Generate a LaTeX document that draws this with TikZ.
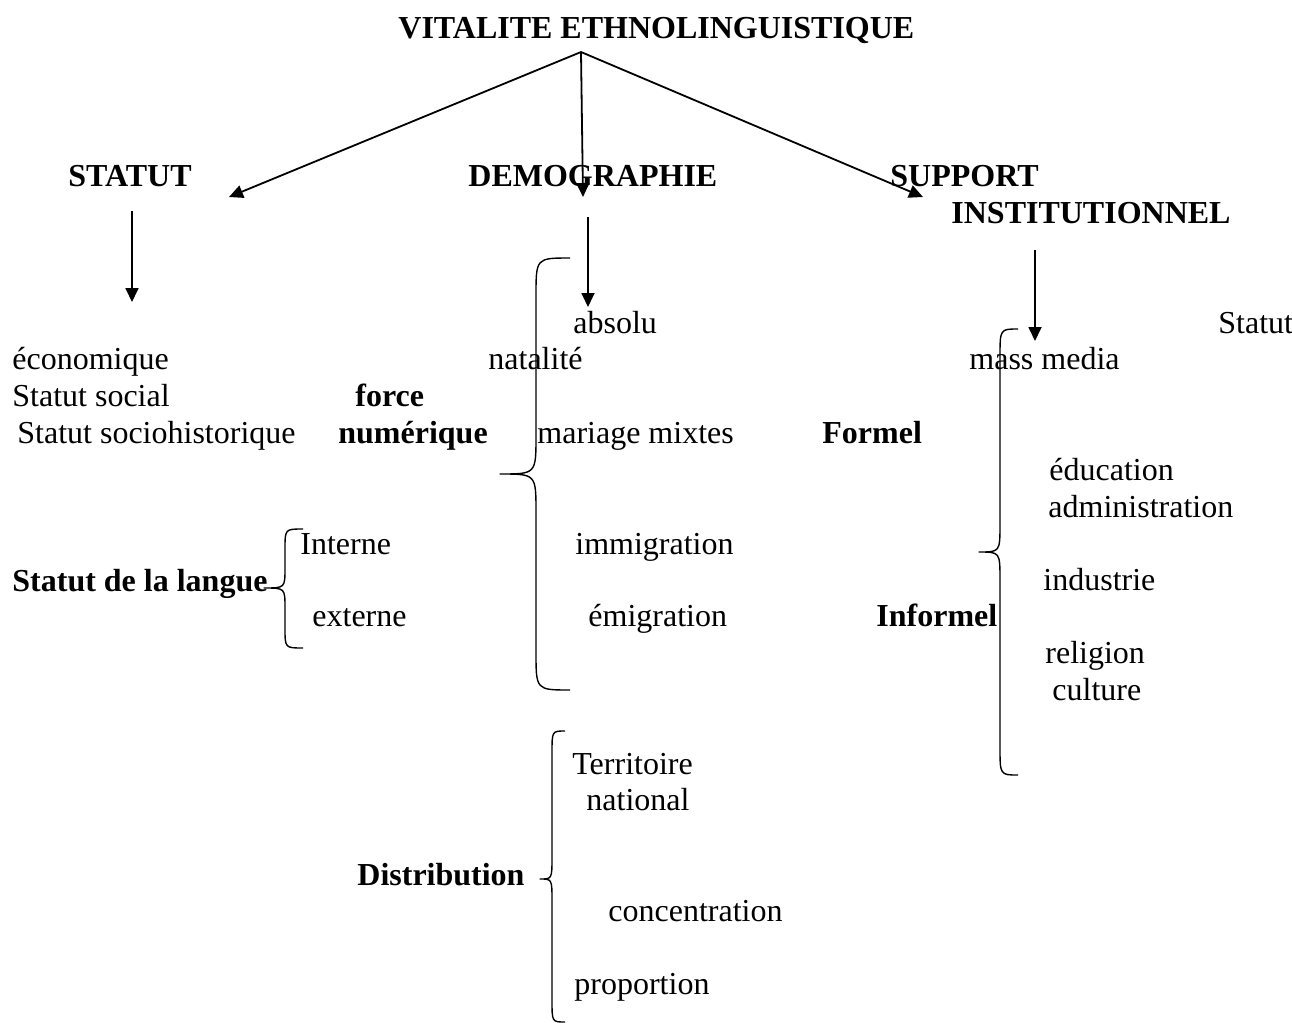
\documentclass[tikz,border=0pt]{standalone}
\usepackage{fontspec}
\setmainfont{Liberation Serif}
\usetikzlibrary{arrows.meta}

\begin{document}
\begin{tikzpicture}[x=0.5pt, y=-0.5pt, line join=round,
  mot/.style={anchor=base west, inner sep=0pt, font=\fontsize{16}{19}\selectfont},
  gras/.style={mot, font=\fontsize{16}{19}\selectfont\bfseries},
  fleche/.style={line width=0.9pt, -{Triangle[length=7pt, width=6.5pt]}},
  accolade/.style={line width=0.7pt}]
  \useasboundingbox (0,0) rectangle (1292,1023);
  % titles (bold)
  \foreach \n/\x/\y/\t in {vitalite/398/38/VITALITE ETHNOLINGUISTIQUE, statut/68/186/STATUT,
    demo/468/186/DEMOGRAPHIE, support/890/186/SUPPORT, instit/951/223/INSTITUTIONNEL,
    force/355/406/force, numerique/338/443/numérique, formel/822/443/Formel,
    informel/876/626/Informel, langue/12/591/Statut de la langue, distrib/357/885/Distribution}
    \node[gras] (\n) at (\x,\y) {\t};
  % plain words
  \foreach \n/\x/\y/\t in {absolu/573/333/absolu, statutB/1218/333/Statut, eco/12/369/économique,
    natal/488/369/natalité, media/969/369/mass media, social/12/406/Statut social,
    sociohist/17/443/Statut sociohistorique, mariage/537/443/mariage mixtes,
    educ/1049/480/éducation, admin/1048/517/administration, interne/300/554/Interne,
    immig/575/554/immigration, industrie/1043/590/industrie, externe/312/626/externe,
    emig/588/626/émigration, religion/1045/663/religion, culture/1052/700/culture,
    territoire/572/774/Territoire, national/586/810/national, concentr/608/921/concentration,
    proportion/574/994/proportion}
    \node[mot] (\n) at (\x,\y) {\t};
  % arrows
  \coordinate (sommet) at (581,52);
  \coordinate (versStatut) at (229,197);
  \coordinate (versDemo) at (583,197);
  \coordinate (versSupport) at (923,197);
  \draw[fleche] (sommet) -- (versStatut);
  \draw[fleche] (sommet) -- (versDemo);
  \draw[fleche] (sommet) -- (versSupport);
  \coordinate (statutA) at (132,211);  \coordinate (statutB) at (132,302);
  \coordinate (demoA) at (588,217);    \coordinate (demoB) at (588,307);
  \coordinate (supportA) at (1035,250); \coordinate (supportB) at (1035,341);
  \draw[fleche] (statutA) -- (statutB);
  \draw[fleche] (demoA) -- (demoB);
  \draw[fleche] (supportA) -- (supportB);
  % braces: end x / top y / line x / tip x / tip y / bottom y / radius
  \foreach \xe/\yt/\xv/\xt/\ym/\yb/\r in {570/258/536/500/474/690/38, 303/529/285/264/588/648/20,
    1018/329/1000/979/552/775/28, 565/731/552/540/879/1022/22}
    \draw[accolade] (\xe,\yt) .. controls (\xv,\yt) .. (\xv,\yt+\r) -- (\xv,\ym-\r)
      .. controls (\xv,\ym) .. (\xt,\ym) .. controls (\xv,\ym) .. (\xv,\ym+\r)
      -- (\xv,\yb-\r) .. controls (\xv,\yb) .. (\xe,\yb);
\end{tikzpicture}
\end{document}
